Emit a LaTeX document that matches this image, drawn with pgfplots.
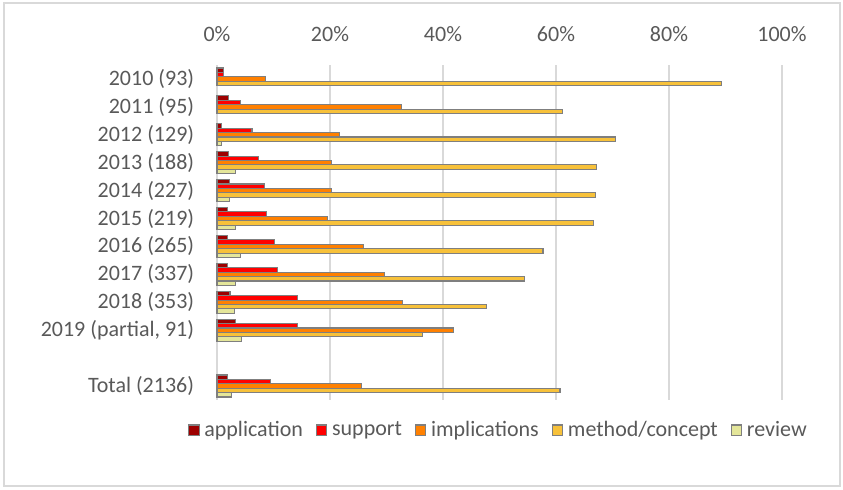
\documentclass[border=0pt]{standalone}
\usepackage{pgfplots}
\pgfplotsset{compat=1.18}
\usepackage{fontspec}
\setmainfont{Carlito}
\usetikzlibrary{calc}
\definecolor{txt}{HTML}{595959}
\definecolor{cApp}{HTML}{9E0000}
\definecolor{cSup}{HTML}{FF0000}
\definecolor{cImp}{HTML}{FF8000}
\definecolor{cMet}{HTML}{F7C13A}
\definecolor{cRev}{HTML}{E4E69A}
\definecolor{bord}{HTML}{7F7F7F}
\definecolor{gridc}{HTML}{D9D9D9}
\definecolor{framec}{HTML}{D9D9D9}
\begin{document}
\begin{tikzpicture}
\begin{axis}[
  name=ax,
  scale only axis, width=282.5pt, height=167.5pt,
  xbar, bar width=2.2pt,
  xmin=0, xmax=100, ymin=-0.5, ymax=11.5, y dir=reverse,
  xtick={0,20,40,60,80,100},
  xticklabels={0\%,20\%,40\%,60\%,80\%,100\%},
  xticklabel pos=upper,
  ytick={0,1,2,3,4,5,6,7,8,9,11},
  yticklabels={2010 (93),2011 (95),2012 (129),2013 (188),2014 (227),2015 (219),2016 (265),2017 (337),2018 (353),{2019 (partial, 91)},Total (2136)},
  xmajorgrids, grid style={color=gridc, line width=0.75pt},
  axis line style={draw=none}, tick style={draw=none},
  ticklabel style={font=\fontsize{11}{13}\selectfont, text=txt},
  xticklabel style={anchor=base, inner sep=0pt, yshift=12pt},
  yticklabel style={anchor=east, inner sep=0pt, xshift=-7pt},
  legend style={at={(0.5,-0.09)}, anchor=center, draw=none, fill=none,
    font=\fontsize{11}{13}\selectfont, text=txt, legend columns=5,
    /tikz/every even column/.append style={column sep=4.5pt},
    /tikz/every odd column/.append style={column sep=0.3pt},
    inner sep=0pt},
  legend image code/.code={\draw[#1] (0pt,-2.6pt) rectangle (5.2pt,2.6pt);},
  legend cell align=left,
  clip=false,
]
\addplot[fill=cApp, draw=bord, line width=0.55pt, bar shift=4.4pt] coordinates {
 (1.08,0) (2.1,1) (0.78,2) (2.1,3) (2.2,4) (1.8,5) (1.9,6) (1.8,7) (2.3,8) (3.3,9) (1.9,11)};
\addplot[fill=cSup, draw=bord, line width=0.55pt, bar shift=2.2pt] coordinates {
 (1.08,0) (4.2,1) (6.2,2) (7.4,3) (8.4,4) (8.7,5) (10.2,6) (10.7,7) (14.2,8) (14.3,9) (9.4,11)};
\addplot[fill=cImp, draw=bord, line width=0.55pt, bar shift=0pt] coordinates {
 (8.6,0) (32.6,1) (21.7,2) (20.2,3) (20.3,4) (19.6,5) (26.0,6) (29.7,7) (32.9,8) (41.8,9) (25.6,11)};
\addplot[fill=cMet, draw=bord, line width=0.55pt, bar shift=-2.2pt] coordinates {
 (89.3,0) (61.1,1) (70.6,2) (67.1,3) (67.0,4) (66.7,5) (57.7,6) (54.4,7) (47.7,8) (36.3,9) (60.7,11)};
\addplot[fill=cRev, draw=bord, line width=0.55pt, bar shift=-4.4pt] coordinates {
 (0.78,2) (3.2,3) (2.2,4) (3.2,5) (4.15,6) (3.3,7) (3.1,8) (4.4,9) (2.6,11)};
\legend{application,support,implications,method/concept,review}
\end{axis}
\useasboundingbox ($(ax.south west)+(-108.5pt,-44.5pt)$) rectangle ($(ax.south west)+(313pt,200pt)$);
\draw[framec, line width=0.75pt] ($(ax.south west)+(-106.5pt,-43pt)$) rectangle ($(ax.south west)+(311.5pt,198.5pt)$);
\end{tikzpicture}
\end{document}
